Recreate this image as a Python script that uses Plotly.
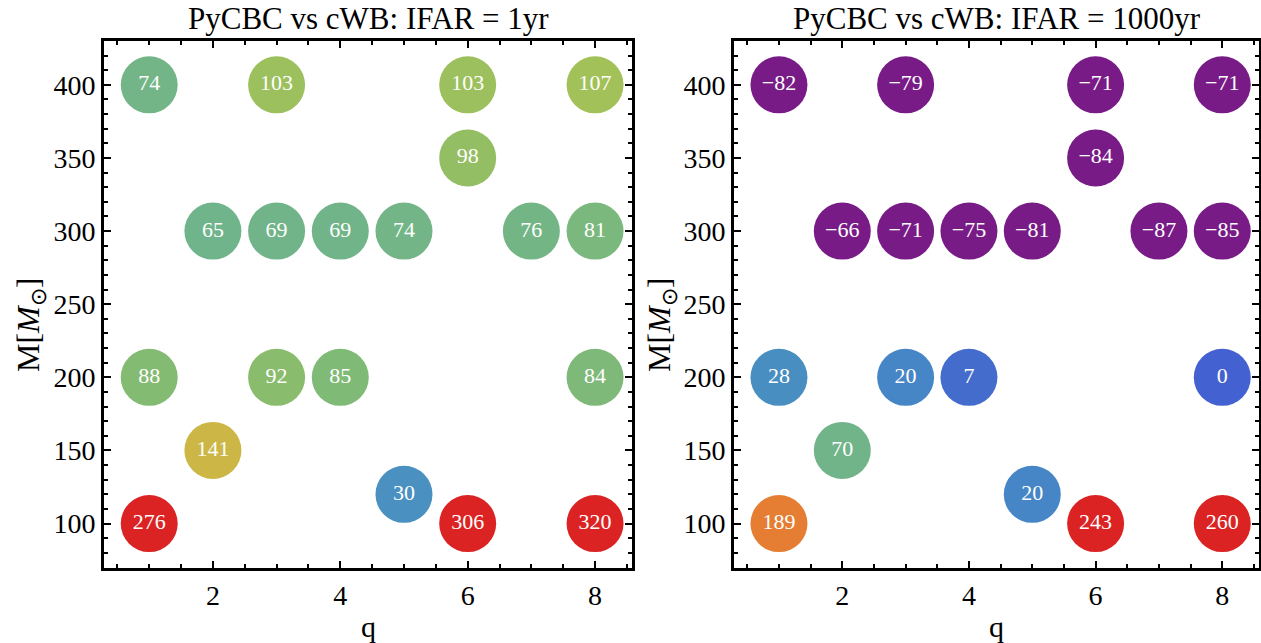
import plotly.graph_objects as go

# ---- data ----
q_vals = [1, 3, 6, 8, 6, 2, 3, 4, 5, 7, 8, 1, 3, 4, 8, 2, 5, 1, 6, 8]
m_vals = [400, 400, 400, 400, 350, 300, 300, 300, 300, 300, 300,
          200, 200, 200, 200, 150, 120, 100, 100, 100]
ifar1_vals = [74, 103, 103, 107, 98, 65, 69, 69, 74, 76, 81,
              88, 92, 85, 84, 141, 30, 276, 306, 320]
ifar1000_vals = [-82, -79, -71, -71, -84, -66, -71, -75, -81, -87, -85,
                 28, 20, 7, 0, 70, 20, 189, 243, 260]
titles = ["PyCBC vs cWB: IFAR = 1yr", "PyCBC vs cWB: IFAR = 1000yr"]

# colour anchors (value -> colour)
anchor_vals = [-90, -60, 0, 7, 20, 30, 65, 76, 88, 107, 141, 189, 243, 320]
anchor_cols = ["#781b87", "#781b87", "#4361d0", "#446ccc", "#4786c6", "#4a90c0",
               "#70b48b", "#74b586", "#84bb72", "#a2c158", "#cbb646", "#e57e33",
               "#dc2323", "#dc2323"]
cmin, cmax = anchor_vals[0], anchor_vals[-1]
colorscale = [[(v - cmin) / (cmax - cmin), c] for v, c in zip(anchor_vals, anchor_cols)]

FONT = "Liberation Serif"
W, H = 1261, 643
xdoms = [[104 / W, 632 / W], [734 / W, 1259 / W]]
ydom = [1 - 568 / H, 1 - 41 / H]
xrange_ = [0.29, 8.58]
yrange_ = [69.6, 430]

fig = go.Figure()
for i, vals in enumerate([ifar1_vals, ifar1000_vals]):
    sfx = "" if i == 0 else "2"
    fig.add_trace(go.Scatter(
        x=q_vals, y=m_vals, mode="markers+text",
        text=[str(v).replace("-", "\u2212") for v in vals],
        textposition="middle center",
        textfont=dict(family=FONT, size=22, color="white"),
        marker=dict(size=57, color=vals, colorscale=colorscale, cmin=cmin, cmax=cmax,
                    line=dict(width=0), opacity=1),
        xaxis="x" + sfx, yaxis="y" + sfx, showlegend=False, hoverinfo="skip",
        cliponaxis=False,
    ))

axis_common = dict(
    showline=True, linecolor="black", linewidth=3, mirror="allticks",
    ticks="inside", ticklen=7, tickwidth=2, tickcolor="black",
    showgrid=False, zeroline=False,
    tickfont=dict(family=FONT, size=28, color="black"),
)
for i in range(2):
    sfx = "" if i == 0 else "2"
    fig.update_layout(**{
        "xaxis" + sfx: dict(axis_common, domain=xdoms[i], range=xrange_,
                            tickvals=[2, 4, 6, 8], anchor="y" + sfx,
                            minor=dict(dtick=0.5, tick0=0, ticks="inside", ticklen=4,
                                       tickwidth=2, tickcolor="black", showgrid=False)),
        "yaxis" + sfx: dict(axis_common, domain=ydom, range=yrange_,
                            tickvals=[100, 150, 200, 250, 300, 350, 400], anchor="x" + sfx,
                            minor=dict(dtick=10, tick0=0, ticks="inside", ticklen=4,
                                       tickwidth=2, tickcolor="black", showgrid=False)),
    })

annotations = []
for i in range(2):
    cx = (xdoms[i][0] + xdoms[i][1]) / 2
    annotations.append(dict(text=titles[i], x=cx, y=1 - 19 / H, xref="paper", yref="paper",
                            showarrow=False, xanchor="center", yanchor="middle",
                            font=dict(family=FONT, size=31, color="black")))
    annotations.append(dict(text="q", x=cx, y=1 - 626 / H, xref="paper", yref="paper",
                            showarrow=False, xanchor="center", yanchor="middle",
                            font=dict(family=FONT, size=30, color="black")))
    ylx = [30, 661][i]
    annotations.append(dict(text="M[<i>M</i><sub>\u2299</sub>]", x=ylx / W, y=1 - 325 / H,
                            xref="paper", yref="paper", showarrow=False, textangle=-90,
                            xanchor="center", yanchor="middle",
                            font=dict(family=FONT, size=32, color="black")))

fig.update_layout(
    width=W, height=H, margin=dict(l=0, r=0, t=0, b=0),
    paper_bgcolor="white", plot_bgcolor="white",
    annotations=annotations,
)

fig.write_html("out.html")
